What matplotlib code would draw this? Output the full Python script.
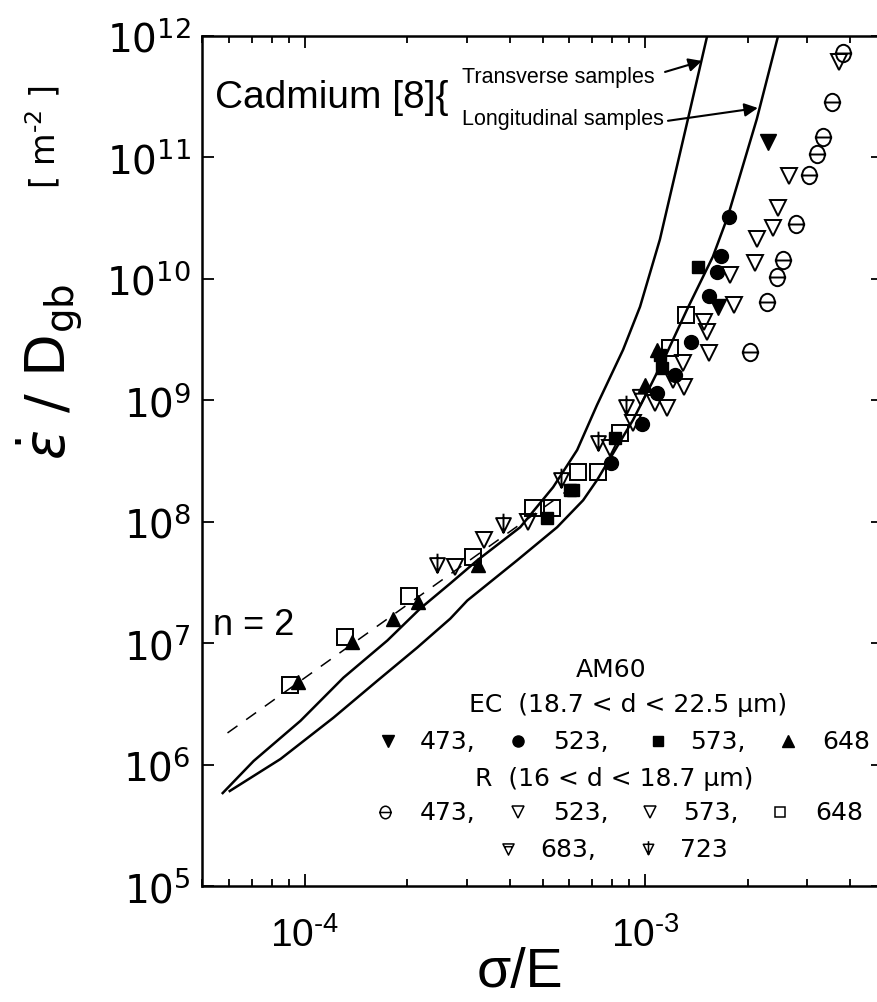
import numpy as np
import matplotlib
matplotlib.use('Agg')
import matplotlib.pyplot as plt
from matplotlib.path import Path
from matplotlib.transforms import Affine2D
from matplotlib.ticker import LogLocator, NullLocator, NullFormatter

# Cadmium [8] reference curves
trans_x = [5.75e-5, 7.09e-5, 9.73e-5, 1.301e-4, 1.751e-4, 2.189e-4, 2.68e-4, 3.216e-4, 4.30e-4,
           5.37e-4, 6.32e-4, 7.23e-4, 8.62e-4, 9.67e-4, 1.106e-3, 1.337e-3, 1.52e-3, 1.572e-3]
trans_y = [5.82e5, 1.07e6, 2.29e6, 5.19e6, 1.05e7, 1.93e7, 3.10e7, 4.80e7, 9.0e7,
           1.92e8, 3.89e8, 9.15e8, 2.60e9, 5.89e9, 2.11e10, 2.07e11, 9.8e11, 1.38e12]
long_x = [6.03e-5, 8.50e-5, 1.216e-4, 1.637e-4, 2.145e-4, 2.68e-4, 3.006e-4, 4.21e-4, 5.52e-4,
          6.58e-4, 7.23e-4, 8.0e-4, 9.22e-4, 1.034e-3, 1.16e-3, 1.328e-3, 1.582e-3, 1.751e-3,
          2.13e-3, 2.455e-3, 2.54e-3]
long_y = [6.05e5, 1.11e6, 2.43e6, 4.90e6, 9.2e6, 1.59e7, 2.24e7, 4.80e7, 9.0e7,
          1.50e8, 2.20e8, 3.53e8, 6.87e8, 1.29e9, 2.46e9, 5.57e9, 1.52e10, 3.27e10,
          2.07e11, 9.8e11, 1.38e12]

# n = 2 guide line (end points)
n2_x = [5.94e-5, 5.83e-4]
n2_y = [1.82e6, 1.75e8]

# AM60, EC (18.7 < d < 22.5 um)
ec473_x = [2.295e-3, 1.637e-3]
ec473_y = [1.33e11, 5.89e9]
ec523_x = [1.763e-3, 1.671e-3, 1.626e-3, 1.541e-3, 1.365e-3, 1.225e-3, 1.084e-3, 9.8e-4, 7.95e-4]
ec523_y = [3.20e10, 1.55e10, 1.13e10, 7.27e9, 3.03e9, 1.62e9, 1.15e9, 6.4e8, 3.03e8]
ec573_x = [1.43e-3, 1.106e-3, 1.121e-3, 8.17e-4, 6.03e-4, 6.15e-4, 5.16e-4]
ec573_y = [1.24e10, 2.37e9, 1.85e9, 4.89e8, 1.82e8, 1.82e8, 1.07e8]
ec648_x = [1.084e-3, 1.0e-3, 3.24e-4, 2.16e-4, 1.824e-4, 1.383e-4, 9.54e-5]
ec648_y = [2.60e9, 1.34e9, 4.36e7, 2.16e7, 1.59e7, 1.03e7, 4.81e6]

# AM60, R (16 < d < 18.7 um)
r473_x = [3.81e-3, 3.54e-3, 3.33e-3, 3.19e-3, 3.03e-3, 2.772e-3, 2.54e-3, 2.44e-3, 2.28e-3, 2.03e-3]
r473_y = [7.24e11, 2.85e11, 1.47e11, 1.06e11, 7.12e10, 2.80e10, 1.44e10, 1.04e10, 6.48e9, 2.51e9]
r523_x = [3.71e-3, 2.455e-3, 2.13e-3, 1.775e-3, 1.489e-3, 1.541e-3, 1.208e-3, 1.07e-3, 9.22e-4, 4.54e-4, 2.77e-4]
r523_y = [6.1e11, 3.80e10, 2.11e10, 1.08e10, 4.43e9, 2.46e9, 1.47e9, 9.5e8, 6.5e8, 9.9e7, 4.20e7]
r573_x = [2.645e-3, 2.373e-3, 2.10e-3, 1.824e-3, 1.52e-3, 1.292e-3, 1.301e-3, 1.16e-3, 7.89e-4, 3.37e-4]
r573_y = [6.98e10, 2.60e10, 1.34e10, 6.12e9, 3.66e9, 2.03e9, 1.29e9, 8.6e8, 4.03e8, 7.0e7]
r648_x = [1.319e-3, 1.184e-3, 8.44e-4, 7.28e-4, 6.36e-4, 5.34e-4, 4.69e-4, 3.13e-4, 2.032e-4, 1.319e-4, 9.04e-5]
r648_y = [5.06e9, 2.70e9, 5.37e8, 2.56e8, 2.56e8, 1.29e8, 1.29e8, 5.08e7, 2.42e7, 1.13e7, 4.54e6]
r683_x = [9.67e-4]
r683_y = [1.06e9]
r723_x = [8.80e-4, 7.28e-4, 5.67e-4, 3.83e-4, 2.455e-4]
r723_y = [8.8e8, 4.44e8, 2.20e8, 9.3e7, 4.36e7]

HY = u'\u2010'  # short hyphen for the exponents
yticks = [1e5, 1e6, 1e7, 1e8, 1e9, 1e10, 1e11, 1e12]
ytick_labels = [r'$\mathregular{10^{%d}}$' % e for e in range(5, 13)]
xticks = [1e-4, 1e-3]
xtick_labels = [r'$\mathregular{10^{%s4}}$' % HY, r'$\mathregular{10^{%s3}}$' % HY]

#custom markers
line_h = Path([(-1, 0), (1, 0)], [Path.MOVETO, Path.LINETO])
theta_mk = Path.make_compound_path(Path.unit_circle().transformed(Affine2D().scale(0.85, 1.0)), line_h)
tri = Path([(-1, 1), (1, 1), (0, -1), (-1, 1)], [Path.MOVETO, Path.LINETO, Path.LINETO, Path.CLOSEPOLY])
tri_h = Path.make_compound_path(tri, Path([(-0.75, 0.5), (0.75, 0.5)], [Path.MOVETO, Path.LINETO]))
tri_v = Path.make_compound_path(tri, Path([(0, -1), (0, 1.6)], [Path.MOVETO, Path.LINETO]))

fig = plt.figure(figsize=(8.78, 10.03), dpi=100)
ax = fig.add_axes([0.2301, 0.1157, 0.7756, 0.8475])
ax.set_xscale('log')
ax.set_yscale('log')
ax.set_xlim(5e-5, 5e-3)
ax.set_ylim(1e5, 1e12)

ax.plot(trans_x, trans_y, 'k-', lw=1.8, zorder=2)
ax.plot(long_x, long_y, 'k-', lw=1.8, zorder=2)
ax.plot(n2_x, n2_y, 'k', lw=1.1, dashes=(8, 7), zorder=2)

op = dict(ls='none', mec='k', mfc='none', mew=1.4, zorder=3)
fp = dict(ls='none', color='k', zorder=4)
ax.plot(r473_x, r473_y, marker=theta_mk, ms=12.5, **op)
ax.plot(r523_x, r523_y, marker='v', ms=11, **op)
ax.plot(r573_x, r573_y, marker='v', ms=11, **op)
ax.plot(r648_x, r648_y, marker='s', ms=11, **op)
ax.plot(r683_x, r683_y, marker=tri_h, ms=11, **op)
ax.plot(r723_x, r723_y, marker=tri_v, ms=17, **op)
ax.plot(ec473_x, ec473_y, marker='v', ms=11, **fp)
ax.plot(ec523_x, ec523_y, marker='o', ms=10, **fp)
ax.plot(ec573_x, ec573_y, marker='s', ms=9, **fp)
ax.plot(ec648_x, ec648_y, marker='^', ms=10, **fp)

# axes and ticks
for s in ax.spines.values():
    s.set_linewidth(1.8)
ax.set_yticks(yticks)
ax.set_yticklabels(ytick_labels, fontsize=28, fontfamily='DejaVu Sans')
ax.yaxis.set_minor_locator(NullLocator())
ax.set_xticks(xticks)
ax.set_xticklabels(xtick_labels, fontsize=28, fontfamily='Liberation Sans')
ax.xaxis.set_minor_locator(LogLocator(base=10, subs=np.arange(2, 10), numticks=20))
ax.xaxis.set_minor_formatter(NullFormatter())
ax.tick_params(which='both', direction='in', top=True, right=True, width=1.3)
ax.tick_params(which='major', length=8.6)
ax.tick_params(which='minor', length=5)
ax.tick_params(axis='y', pad=8)
ax.tick_params(axis='x', pad=22)

# axis titles
fig.text(66/878, 1-372/1003, r'$\dot{\varepsilon}$ / D$_{\mathregular{gb}}$', rotation=90,
         rotation_mode='anchor', ha='center', va='baseline', fontsize=40, fontfamily='DejaVu Sans')
fig.text(55/878, 1-137/1003, r'[ m$^{\mathregular{%s2}}$ ]' % HY, rotation=90,
         rotation_mode='anchor', ha='center', va='baseline', fontsize=24, fontfamily='DejaVu Sans')
fig.text(520/878, 0.016, u'\u03c3/E', ha='center', va='baseline',
         fontsize=40, fontfamily='Liberation Sans')

# Cadmium annotations
ax.text(0.0191, 0.9165, 'Cadmium [8]{', transform=ax.transAxes, fontsize=28,
        fontfamily='Liberation Sans', va='baseline')
ax.text(0.3818, 0.9459, 'Transverse samples', transform=ax.transAxes, fontsize=15.5,
        fontfamily='Liberation Sans', va='baseline')
ax.text(0.3818, 0.8965, 'Longitudinal samples', transform=ax.transAxes, fontsize=15.5,
        fontfamily='Liberation Sans', va='baseline')
ap = dict(arrowstyle='-|>', color='k', lw=1.5, mutation_scale=20, shrinkA=0, shrinkB=0)
ax.annotate('', xy=(1.47e-3, 6.22e11), xytext=(1.145e-3, 5.05e11), arrowprops=ap)
ax.annotate('', xy=(2.145e-3, 2.55e11), xytext=(1.168e-3, 2.0e11), arrowprops=ap)
ax.text(0.0162, 0.2965, 'n = 2', transform=ax.transAxes, fontsize=26,
        fontfamily='Liberation Sans', va='baseline')

# legend block
lf = dict(transform=ax.transAxes, fontsize=18, fontfamily='DejaVu Sans', va='center')
ax.text(0.60, 0.2553, 'AM60', ha='center', **lf)
ax.text(0.6256, 0.2141, u'EC  (18.7 < d < 22.5 \u03bcm)', ha='center', **lf)
ax.text(0.605, 0.1271, u'R  (16 < d < 18.7 \u03bcm)', ha='center', **lf)
lm = dict(transform=ax.transAxes, clip_on=False, ls='none')
row1 = [(0.2731, 0.3201, 'v', '473,'), (0.4640, 0.5154, 'o', '523,'),
        (0.6696, 0.7166, 's', '573,'), (0.8605, 0.9104, '^', '648')]
for mx, tx, mk, lab in row1:
    ax.plot([mx], [0.1706], marker=mk, ms=8 if mk != 's' else 6.5, color='k', **lm)
    ax.text(tx, 0.1706, lab, ha='left', **lf)
row2 = [(0.2687, 0.3201, theta_mk, '473,', 9), (0.4640, 0.5154, 'v', '523,', 8),
        (0.6579, 0.7063, 'v', '573,', 8), (0.8488, 0.9001, 's', '648', 7)]
for mx, tx, mk, lab, ms in row2:
    ax.plot([mx], [0.0871], marker=mk, ms=ms, mec='k', mfc='none', mew=1.1, **lm)
    ax.text(tx, 0.0871, lab, ha='left', **lf)
ax.plot([0.4493], [0.0435], marker=tri_h, ms=8, mec='k', mfc='none', mew=1.1, **lm)
ax.text(0.4963, 0.0435, '683,', ha='left', **lf)
ax.plot([0.6549], [0.0435], marker=tri_v, ms=12, mec='k', mfc='none', mew=1.1, **lm)
ax.text(0.7019, 0.0435, '723', ha='left', **lf)

plt.savefig('out.png', dpi=100)
